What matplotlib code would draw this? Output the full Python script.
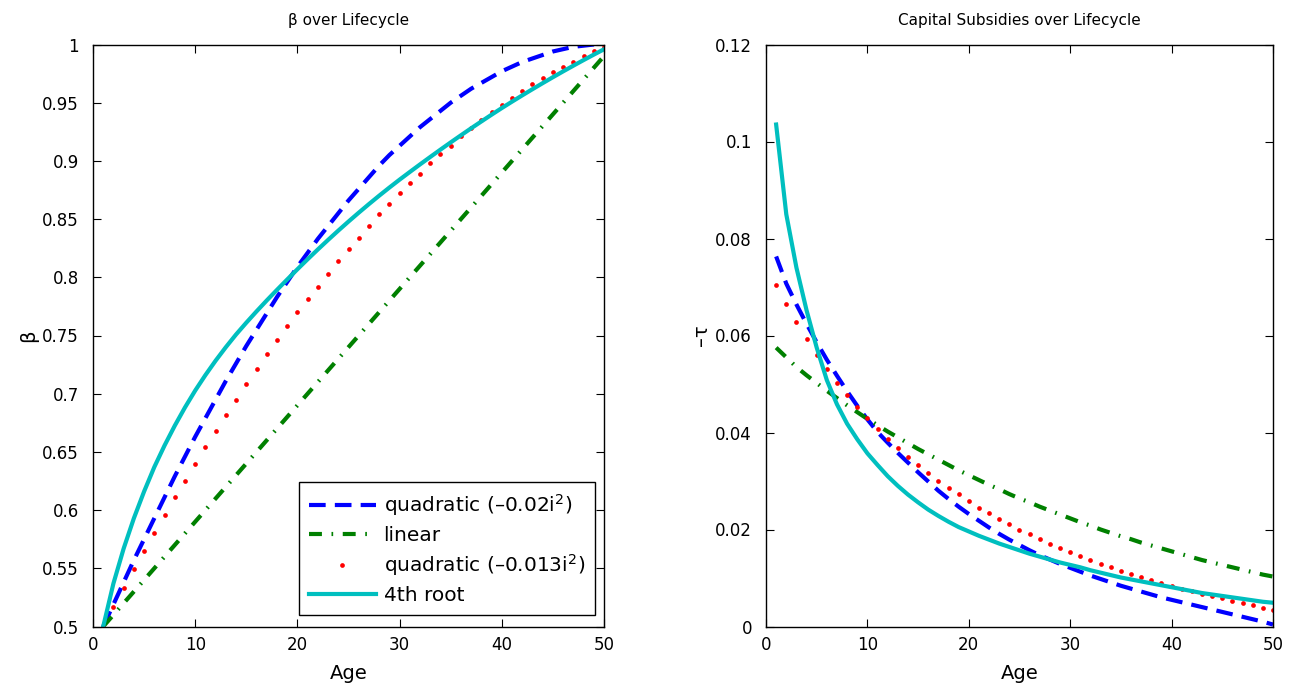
import matplotlib
matplotlib.use("Agg")
import matplotlib.pyplot as plt

plt.rcParams["font.family"] = ["DejaVu Sans"]
plt.rcParams["mathtext.fontset"] = "dejavusans"

# ---------------- data ----------------
ages = list(range(1, 51))

labels = ["quadratic (–0.02i$^2$)", "linear", "quadratic (–0.013i$^2$)", "4th root"]

beta_quad02 = [0.500, 0.519, 0.538, 0.557, 0.575, 0.593, 0.611, 0.629, 0.646, 0.663,
               0.679, 0.695, 0.711, 0.726, 0.741, 0.755, 0.769, 0.783, 0.796, 0.809,
               0.821, 0.833, 0.844, 0.855, 0.866, 0.876, 0.886, 0.896, 0.905, 0.913,
               0.921, 0.929, 0.936, 0.943, 0.950, 0.956, 0.962, 0.967, 0.972, 0.977,
               0.981, 0.985, 0.988, 0.991, 0.994, 0.996, 0.998, 0.999, 1.000, 1.000]
beta_linear = [0.50, 0.51, 0.52, 0.53, 0.54, 0.55, 0.56, 0.57, 0.58, 0.59,
               0.60, 0.61, 0.62, 0.63, 0.64, 0.65, 0.66, 0.67, 0.68, 0.69,
               0.70, 0.71, 0.72, 0.73, 0.74, 0.75, 0.76, 0.77, 0.78, 0.79,
               0.80, 0.81, 0.82, 0.83, 0.84, 0.85, 0.86, 0.87, 0.88, 0.89,
               0.90, 0.91, 0.92, 0.93, 0.94, 0.95, 0.96, 0.97, 0.98, 0.99]
beta_quad013 = [0.500, 0.517, 0.533, 0.549, 0.565, 0.580, 0.596, 0.611, 0.625, 0.640,
                0.654, 0.668, 0.682, 0.695, 0.708, 0.721, 0.734, 0.746, 0.758, 0.770,
                0.781, 0.792, 0.803, 0.814, 0.824, 0.834, 0.844, 0.854, 0.863, 0.872,
                0.881, 0.889, 0.898, 0.906, 0.913, 0.921, 0.928, 0.935, 0.942, 0.948,
                0.954, 0.960, 0.966, 0.971, 0.976, 0.981, 0.985, 0.990, 0.994, 0.998]
beta_root4 = [0.5000, 0.5370, 0.5670, 0.5930, 0.6160, 0.6370, 0.6555, 0.6725, 0.6882, 0.7027,
              0.7160, 0.7284, 0.7400, 0.7509, 0.7610, 0.7707, 0.7801, 0.7892, 0.7981, 0.8069,
              0.8155, 0.8239, 0.8321, 0.8401, 0.8479, 0.8555, 0.8629, 0.8701, 0.8771, 0.8839,
              0.8905, 0.8970, 0.9034, 0.9097, 0.9159, 0.9220, 0.9280, 0.9339, 0.9397, 0.9454,
              0.9509, 0.9563, 0.9616, 0.9668, 0.9719, 0.9769, 0.9818, 0.9866, 0.9913, 0.9959]

tau_quad02 = [0.0763, 0.0707, 0.0664, 0.0624, 0.0586, 0.0550, 0.0517, 0.0485, 0.0455, 0.0427,
              0.0401, 0.0379, 0.0358, 0.0338, 0.0318, 0.0299, 0.0280, 0.0263, 0.0247, 0.0232,
              0.0218, 0.0204, 0.0191, 0.0179, 0.0168, 0.0157, 0.0147, 0.0138, 0.0129, 0.0121,
              0.0113, 0.0105, 0.0098, 0.0091, 0.0084, 0.0078, 0.0072, 0.0066, 0.0060, 0.0055,
              0.0050, 0.0045, 0.0040, 0.0035, 0.0030, 0.0025, 0.0020, 0.0015, 0.0010, 0.0004]
tau_linear = [0.0575, 0.0555, 0.0535, 0.0518, 0.0502, 0.0486, 0.0471, 0.0456, 0.0442, 0.0428,
              0.0415, 0.0402, 0.0390, 0.0378, 0.0366, 0.0355, 0.0344, 0.0333, 0.0322, 0.0312,
              0.0302, 0.0292, 0.0283, 0.0273, 0.0264, 0.0256, 0.0247, 0.0239, 0.0231, 0.0223,
              0.0215, 0.0208, 0.0200, 0.0193, 0.0186, 0.0180, 0.0173, 0.0167, 0.0161, 0.0155,
              0.0149, 0.0143, 0.0137, 0.0132, 0.0127, 0.0122, 0.0117, 0.0112, 0.0107, 0.0103]
tau_quad013 = [0.0704, 0.0664, 0.0627, 0.0592, 0.0560, 0.0530, 0.0503, 0.0478, 0.0452, 0.0429,
               0.0408, 0.0387, 0.0368, 0.0350, 0.0333, 0.0317, 0.0301, 0.0286, 0.0273, 0.0258,
               0.0245, 0.0233, 0.0221, 0.0211, 0.0200, 0.0190, 0.0180, 0.0171, 0.0162, 0.0153,
               0.0145, 0.0137, 0.0129, 0.0122, 0.0115, 0.0108, 0.0102, 0.0095, 0.0089, 0.0084,
               0.0078, 0.0073, 0.0068, 0.0063, 0.0058, 0.0053, 0.0048, 0.0044, 0.0039, 0.0035]
tau_root4 = [0.1035, 0.0850, 0.0740, 0.0652, 0.0575, 0.0508, 0.0458, 0.0418, 0.0386, 0.0357,
             0.0333, 0.0310, 0.0290, 0.0272, 0.0256, 0.0241, 0.0228, 0.0216, 0.0205, 0.0196,
             0.0187, 0.0179, 0.0171, 0.0164, 0.0157, 0.0150, 0.0144, 0.0138, 0.0132, 0.0127,
             0.0122, 0.0116, 0.0111, 0.0106, 0.0101, 0.0097, 0.0093, 0.0089, 0.0085, 0.0081,
             0.0077, 0.0073, 0.0069, 0.0066, 0.0063, 0.0060, 0.0057, 0.0054, 0.0051, 0.0049]

age_ticks = [0, 10, 20, 30, 40, 50]
age_ticklabels = ["0", "10", "20", "30", "40", "50"]
beta_ticks = [0.5, 0.55, 0.6, 0.65, 0.7, 0.75, 0.8, 0.85, 0.9, 0.95, 1.0]
beta_ticklabels = ["0.5", "0.55", "0.6", "0.65", "0.7", "0.75", "0.8", "0.85", "0.9", "0.95", "1"]
tau_ticks = [0, 0.02, 0.04, 0.06, 0.08, 0.1, 0.12]
tau_ticklabels = ["0", "0.02", "0.04", "0.06", "0.08", "0.1", "0.12"]

# ---------------- styles ----------------
BLUE = "#0000ff"
GREEN = "#008000"
RED = "#ff0000"
CYAN = "#00bfbf"
LW = 3.0
TICK_FS = 12
LABEL_FS = 14
TITLE_FS = 11
LEGEND_FS = 14.5

fig = plt.figure(figsize=(12.93, 6.90), dpi=100)
ax1 = fig.add_axes([93 / 1293, 63.5 / 690, 511 / 1293, 582 / 690])
ax2 = fig.add_axes([766 / 1293, 63.5 / 690, 507 / 1293, 582 / 690])


def draw(ax, s_quad02, s_lin, s_quad013, s_root):
    h1, = ax.plot(ages, s_quad02, color=BLUE, lw=LW, linestyle=(0, (4.0, 2.2)))
    h2, = ax.plot(ages, s_lin, color=GREEN, lw=LW, linestyle=(0, (3.1, 2.3, 0.4, 2.3)))
    h3, = ax.plot(ages, s_quad013, color=RED, linestyle="none", marker="o",
                  markersize=3.4, markeredgewidth=0)
    h4, = ax.plot(ages, s_root, color=CYAN, lw=LW, linestyle="-")
    ax.set_xlim(0, 50)
    ax.set_xticks(age_ticks)
    ax.set_xticklabels(age_ticklabels)
    ax.tick_params(direction="in", top=True, right=True, length=6, width=0.8,
                   labelsize=TICK_FS)
    ax.tick_params(axis="y", pad=10)
    ax.tick_params(axis="x", pad=7)
    for sp in ax.spines.values():
        sp.set_linewidth(1.0)
    ax.set_xlabel("Age", fontsize=LABEL_FS, labelpad=7)
    return [h1, h2, h3, h4]


handles = draw(ax1, beta_quad02, beta_linear, beta_quad013, beta_root4)
ax1.set_ylim(0.5, 1.0)
ax1.set_yticks(beta_ticks)
ax1.set_yticklabels(beta_ticklabels)
ax1.set_ylabel("β", fontsize=LABEL_FS, labelpad=3)
ax1.set_title("β over Lifecycle", fontsize=TITLE_FS, pad=14)

leg = ax1.legend(handles, labels, loc="lower right", bbox_to_anchor=(0.982, 0.02),
                 borderaxespad=0, fontsize=LEGEND_FS, handlelength=3.3, handletextpad=0.4,
                 numpoints=1, fancybox=False, framealpha=1, edgecolor="black",
                 borderpad=0.5, labelspacing=0.38)
leg.get_frame().set_linewidth(1.0)

draw(ax2, tau_quad02, tau_linear, tau_quad013, tau_root4)
ax2.set_ylim(0, 0.12)
ax2.set_yticks(tau_ticks)
ax2.set_yticklabels(tau_ticklabels)
ax2.set_ylabel("–τ", fontsize=LABEL_FS, labelpad=3)
ax2.set_title("Capital Subsidies over Lifecycle", fontsize=TITLE_FS, pad=14)

fig.savefig("out.png", dpi=100)
